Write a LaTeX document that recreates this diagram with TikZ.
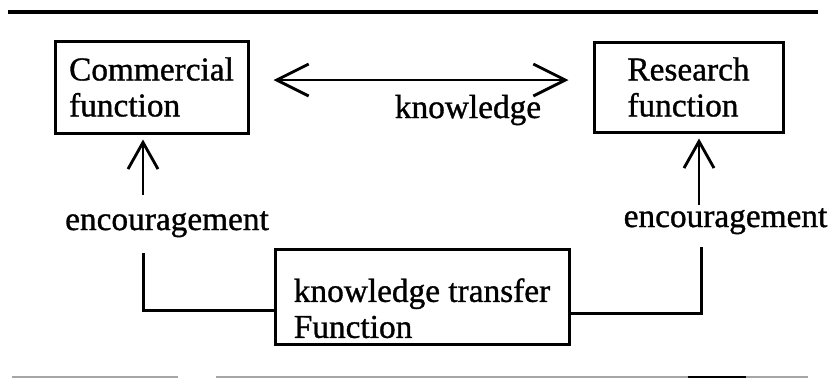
\documentclass[tikz,border=0pt]{standalone}
\usepackage{fontspec}
\setmainfont{Liberation Serif}[FakeBold=1]
\usetikzlibrary{arrows.meta,positioning}

\begin{document}
\begin{tikzpicture}[
    x=0.3pt, y=-0.3pt,
    fnbox/.style={rectangle, draw, line width=0.9pt, align=left, inner sep=0pt, font=\fontsize{10}{10.8}\selectfont},
    lbl/.style={anchor=base, inner sep=0pt, font=\fontsize{10}{10.8}\selectfont},
    uparrow/.style={line width=0.85pt, -{Straight Barb[length=8pt, width=9pt]}, shorten >=1.5pt},
    biarrow/.style={line width=0.85pt, {Straight Barb[length=9.6pt, width=9.6pt]}-{Straight Barb[length=9.6pt, width=9.6pt]}, shorten <=7.2pt, shorten >=7.2pt},
    link/.style={line width=0.9pt},
    node distance=102.9pt
]
    \useasboundingbox (0,0) rectangle (832,378);
    \draw[line width=1.3pt] (8,12) -- (818,12);
    \draw[gray!70, line width=0.35pt] (12,377) -- (178,377) (216,377) -- (808,377);
    \draw[line width=0.6pt] (688,377) -- (746,377);

    \node[fnbox, minimum width=57.9pt, minimum height=27.6pt] (comm) at (151.5,87) {Commercial\\function};
    \node[fnbox, minimum width=56.7pt, minimum height=27pt, right=of comm] (res) {Research\\function};
    \node[fnbox, minimum width=88.2pt, minimum height=28.5pt] (transfer) at (422,296.5) {\rule{0pt}{14.1pt}knowledge transfer\\Function};

    \node[lbl] (knowlbl) at (468,118) {knowledge};
    \node[lbl] (encleft) at (167,230) {encouragement};
    \node[lbl] (encright) at (725.5,227) {encouragement};

    \coordinate (ltail) at (143,195);
    \coordinate (rtail) at (699,205);
    \coordinate (lfoot) at (143,253);
    \coordinate (rfoot) at (701,247);

    \draw[biarrow] ([yshift=2.1pt]comm.east) -- ([yshift=2.1pt]res.west);
    \draw[uparrow] (ltail) -- (ltail |- comm.south);
    \draw[uparrow] (rtail) -- (rtail |- res.south);
    \draw[link] ([yshift=-4.05pt]transfer.west) -| (lfoot);
    \draw[link] ([yshift=-4.95pt]transfer.east) -| (rfoot);
\end{tikzpicture}
\end{document}
